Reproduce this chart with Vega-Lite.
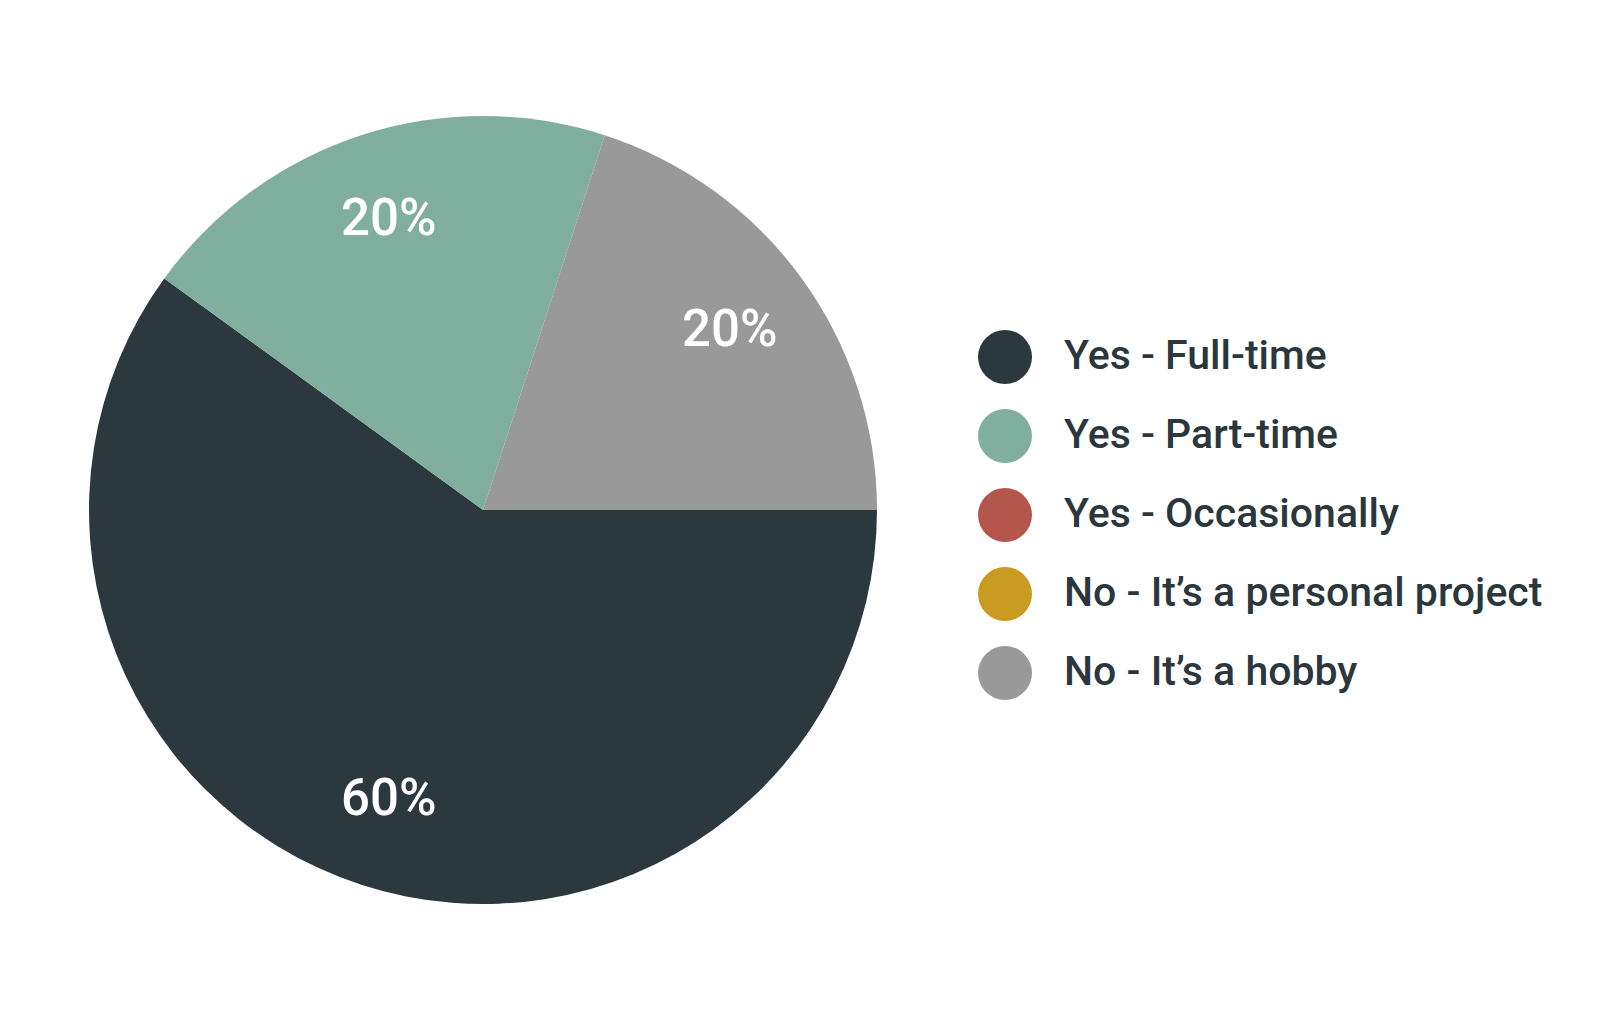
{
  "$schema": "https://vega.github.io/schema/vega-lite/v6.json",
  "width": 788,
  "height": 788,
  "autosize": {"type": "none"},
  "padding": {"left": 89, "top": 116, "right": 743, "bottom": 119},
  "background": "white",
  "config": {"view": {"stroke": null}, "font": "Roboto"},
  "data": {
    "values": [
      {"answer": "Yes - Full-time", "rank": 1, "share": 0.6},
      {"answer": "Yes - Part-time", "rank": 2, "share": 0.2},
      {"answer": "Yes - Occasionally", "rank": 3, "share": 0},
      {"answer": "No - It’s a personal project", "rank": 4, "share": 0},
      {"answer": "No - It’s a hobby", "rank": 5, "share": 0.2}
    ]
  },
  "encoding": {
    "theta": {"field": "share", "type": "quantitative", "stack": true, "scale": {"range": [1.5707963268, 7.8539816340]}},
    "order": {"field": "rank", "type": "quantitative"}
  },
  "layer": [
    {
      "mark": {"type": "arc", "outerRadius": 394},
      "encoding": {
        "color": {
          "field": "answer",
          "type": "nominal",
          "sort": null,
          "scale": {
            "domain": ["Yes - Full-time", "Yes - Part-time", "Yes - Occasionally", "No - It’s a personal project", "No - It’s a hobby"],
            "range": ["#2b383e", "#80ae9f", "#b5564c", "#c99b21", "#999999"]
          },
          "legend": {
            "orient": "none",
            "legendX": 889,
            "legendY": 214,
            "title": null,
            "padding": 0,
            "symbolType": "circle",
            "symbolSize": 2916,
            "symbolStrokeWidth": 0,
            "symbolOpacity": 1,
            "labelFont": "Roboto",
            "labelFontSize": 41,
            "labelFontWeight": 500,
            "labelColor": "#2b373d",
            "labelOffset": 32,
            "labelLimit": 700,
            "rowPadding": 25
          }
        }
      }
    },
    {
      "transform": [{"filter": "datum.share > 0"}],
      "mark": {"type": "text", "radius": 305, "fontSize": 51, "fontWeight": 500, "font": "Roboto", "color": "white", "align": "center", "baseline": "middle"},
      "encoding": {
        "text": {"field": "share", "type": "quantitative", "format": ".0%"}
      }
    }
  ]
}
